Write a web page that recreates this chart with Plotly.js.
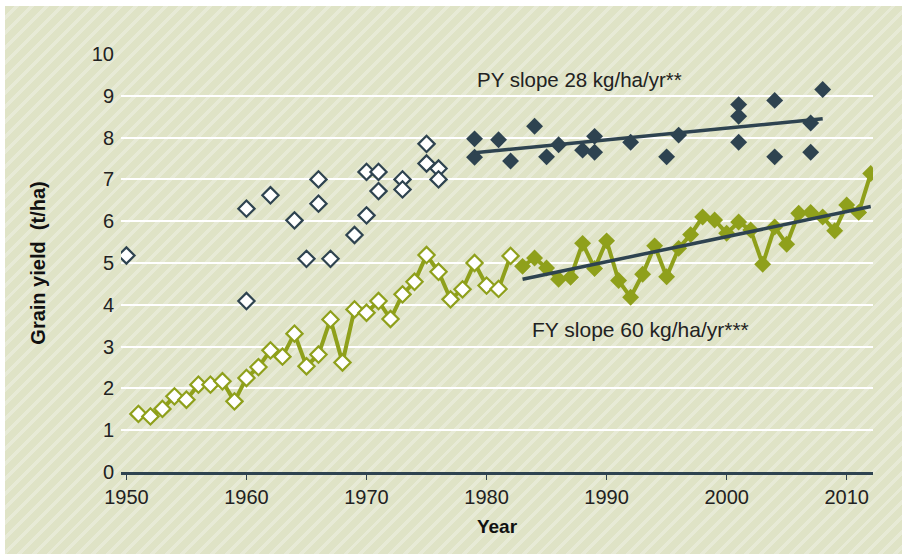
<!DOCTYPE html>
<html>
<head>
<meta charset="utf-8">
<script src="https://cdn.plot.ly/plotly-3.0.1.min.js"></script>
<style>
  html, body { margin: 0; padding: 0; background: #ffffff; }
  #bg {
    position: absolute; left: 5px; top: 6px; width: 897px; height: 548px;
    background: repeating-linear-gradient(135deg, #dfe3c6 0px, #dfe3c6 7px, #e7ead6 7px, #e7ead6 10.5px);
  }
  #chart { position: absolute; left: 0; top: 0; width: 902px; height: 554px; }
</style>
</head>
<body>
<div id="bg"></div>
<div id="chart"></div>
<script>
// Potential yield (PY) – open markers (early), filled markers (later)
const pyOpenYears = [1950, 1960, 1960, 1962, 1964, 1965, 1966, 1966, 1967, 1969, 1970, 1970, 1971, 1971, 1973, 1973, 1975, 1975, 1976, 1976];
const pyOpenVals  = [5.18, 6.30, 4.09, 6.62, 6.02, 5.10, 7.00, 6.42, 5.10, 5.67, 7.18, 6.14, 7.18, 6.72, 7.00, 6.76, 7.85, 7.38, 7.26, 7.00];
const pyFillYears = [1979, 1979, 1981, 1982, 1984, 1985, 1986, 1988, 1989, 1989, 1992, 1995, 1996, 2001, 2001, 2001, 2004, 2004, 2007, 2007, 2008];
const pyFillVals  = [7.97, 7.53, 7.95, 7.44, 8.27, 7.54, 7.83, 7.70, 8.03, 7.65, 7.89, 7.54, 8.06, 8.79, 8.51, 7.89, 8.89, 7.54, 8.35, 7.65, 9.15];

// Farm yield (FY)
const fyOpenYears = [1951,1952,1953,1954,1955,1956,1957,1958,1959,1960,1961,1962,1963,1964,1965,1966,1967,1968,1969,1970,1971,1972,1973,1974,1975,1976,1977,1978,1979,1980,1981,1982];
const fyOpenVals  = [1.39,1.33,1.51,1.81,1.73,2.09,2.09,2.17,1.69,2.25,2.51,2.91,2.76,3.31,2.53,2.81,3.65,2.62,3.89,3.81,4.09,3.66,4.25,4.55,5.19,4.79,4.13,4.37,5.00,4.46,4.38,5.17];
const fyFillYears = [1983,1984,1985,1986,1987,1988,1989,1990,1991,1992,1993,1994,1995,1996,1997,1998,1999,2000,2001,2002,2003,2004,2005,2006,2007,2008,2009,2010,2011,2012];
const fyFillVals  = [4.92,5.12,4.88,4.61,4.66,5.47,4.87,5.53,4.58,4.18,4.73,5.41,4.67,5.35,5.68,6.10,6.03,5.71,5.98,5.79,4.97,5.86,5.45,6.19,6.21,6.10,5.77,6.39,6.21,7.14];

// Trend lines (end points)
const pyTrendYears = [1979, 2008];
const pyTrendVals  = [7.64, 8.45];
const fyTrendYears = [1983, 2012];
const fyTrendVals  = [4.61, 6.35];

// Labels
const xTickVals = [1950, 1960, 1970, 1980, 1990, 2000, 2010];
const yTickVals = [0,1,2,3,4,5,6,7,8,9,10];
const pyLabel = "PY slope 28 kg/ha/yr**";
const fyLabel = "FY slope 60 kg/ha/yr***";

const slate = '#2e4350';
const green = '#8fa01b';
const font = 'Liberation Sans, Arial, Helvetica, sans-serif';

const traces = [
  { x: fyOpenYears, y: fyOpenVals, type: 'scatter', mode: 'lines+markers',
    line: { color: green, width: 4 },
    marker: { symbol: 'diamond', size: 12.5, color: '#ffffff', line: { color: green, width: 2.2 } } },
  { x: fyFillYears, y: fyFillVals, type: 'scatter', mode: 'lines+markers',
    line: { color: green, width: 4 },
    marker: { symbol: 'diamond', size: 13, color: green, line: { width: 0 } } },
  { x: pyOpenYears, y: pyOpenVals, type: 'scatter', mode: 'markers',
    marker: { symbol: 'diamond', size: 12.5, color: '#ffffff', line: { color: slate, width: 2.2 } } },
  { x: pyFillYears, y: pyFillVals, type: 'scatter', mode: 'markers',
    marker: { symbol: 'diamond', size: 13, color: slate, line: { width: 0 } } },
  { x: pyTrendYears, y: pyTrendVals, type: 'scatter', mode: 'lines',
    line: { color: slate, width: 3.5 } },
  { x: fyTrendYears, y: fyTrendVals, type: 'scatter', mode: 'lines',
    line: { color: slate, width: 3.5 } }
];

const layout = {
  width: 902, height: 554,
  margin: { l: 121, r: 29, t: 54, b: 82 },
  paper_bgcolor: 'rgba(0,0,0,0)',
  plot_bgcolor: 'rgba(0,0,0,0)',
  showlegend: false,
  font: { family: font, color: '#222222', size: 20 },
  xaxis: {
    range: [1949.55, 2012.19],
    tickvals: xTickVals,
    ticktext: xTickVals.map(String),
    showgrid: false, zeroline: false,
    showline: true, linecolor: slate, linewidth: 2.5,
    ticks: 'outside', ticklen: 5, tickwidth: 1.5, tickcolor: slate,
    tickfont: { family: font, size: 20, color: '#222222' },
    title: { text: '<b>Year</b>', font: { family: font, size: 19, color: '#111111' }, standoff: 13 }
  },
  yaxis: {
    range: [0, 10],
    tickvals: yTickVals,
    ticktext: yTickVals.map(String),
    showgrid: true, gridcolor: '#ffffff', gridwidth: 2,
    zeroline: false, showline: false,
    ticks: '', ticklabelstandoff: 6,
    tickfont: { family: font, size: 20, color: '#222222' },
    title: { text: '<b>Grain yield\u00a0\u00a0(t/ha)</b>', font: { family: font, size: 20, color: '#111111' }, standoff: 40 }
  },
  annotations: [
    { x: 1979.0, y: 9.39, xref: 'x', yref: 'y', text: pyLabel, showarrow: false,
      xanchor: 'left', yanchor: 'middle', font: { family: font, size: 20.5, color: '#222222' } },
    { x: 1983.6, y: 3.41, xref: 'x', yref: 'y', text: fyLabel, showarrow: false,
      xanchor: 'left', yanchor: 'middle', font: { family: font, size: 21, color: '#222222' } }
  ]
};

Plotly.newPlot('chart', traces, layout, { displayModeBar: false, staticPlot: true });
</script>
</body>
</html>
